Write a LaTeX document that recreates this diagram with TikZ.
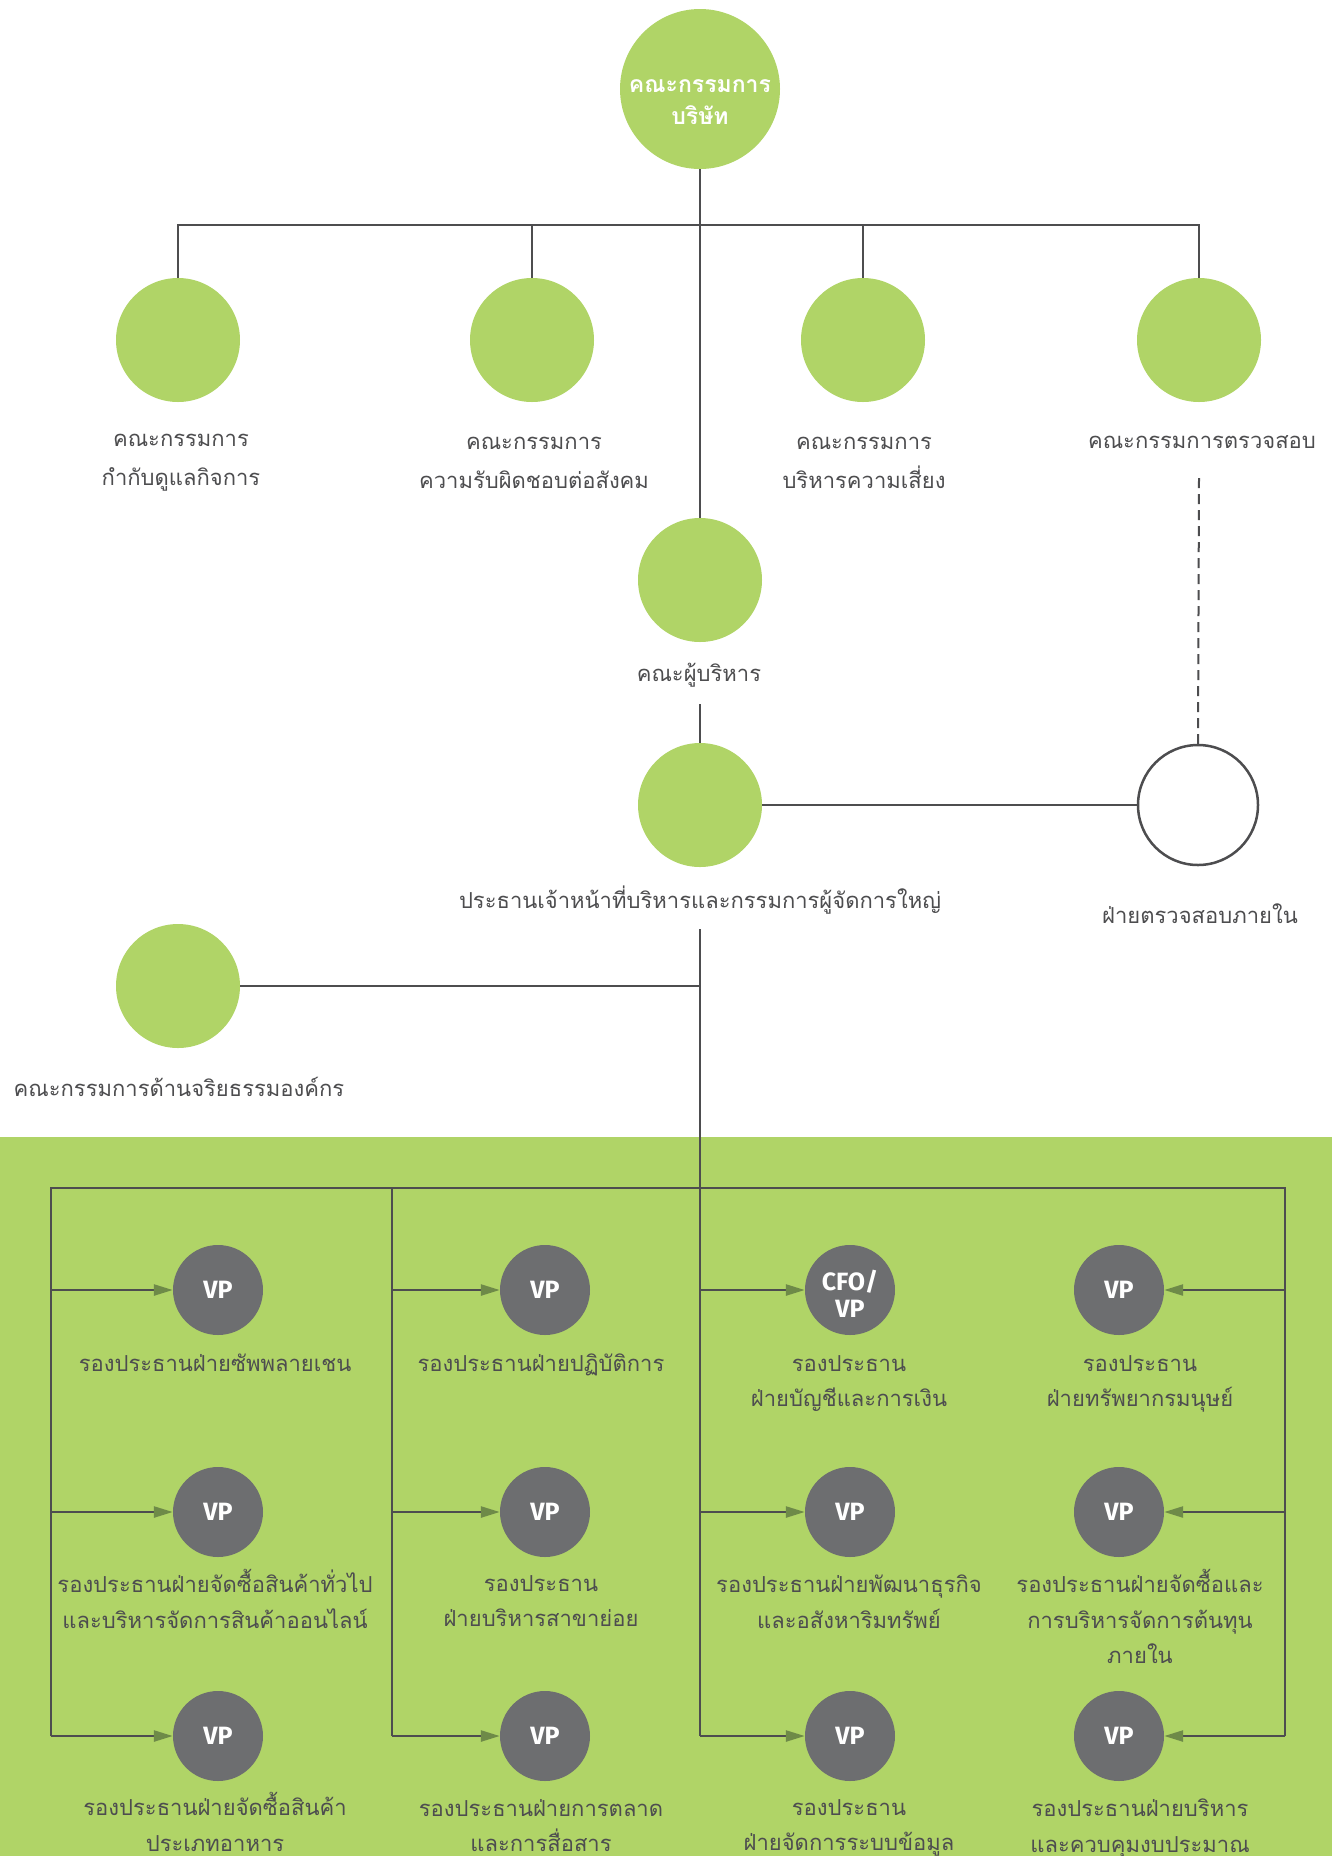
\documentclass[tikz,border=0pt]{standalone}
\usepackage{fontspec}
\usetikzlibrary{arrows.meta}
\newfontfamily\thai[Script=Thai]{Loma}
\newfontfamily\vpf{Fira Sans}
\definecolor{cgreen}{HTML}{B0D467}
\definecolor{cgrey}{HTML}{6D6E70}
\definecolor{cline}{HTML}{4D4D4F}
\definecolor{carrow}{HTML}{6E8A48}
\definecolor{ctext}{HTML}{4D4D4F}
\tikzset{
  gc/.style={circle, fill=cgreen, minimum size=124pt, inner sep=0pt},
  wc/.style={circle, draw=cline, line width=2.5pt, fill=white, minimum size=120pt, inner sep=0pt},
  vp/.style={circle, fill=cgrey, minimum size=90pt, inner sep=0pt, text=white, align=center,
     font=\vpf\bfseries\fontsize{25}{27}\selectfont},
  lbl/.style={text=ctext, font=\thai\fontsize{22}{39}\selectfont, align=center, inner sep=0pt},
  rlbl/.style={text=ctext, font=\thai\fontsize{22}{35.5}\selectfont, align=center, inner sep=0pt,
     anchor=north, execute at begin node={\rule{0pt}{26pt}}},
  ln/.style={draw=cline, line width=2.5pt},
  arr/.style={draw=cline, line width=2.5pt, -{Triangle[length=19pt,width=11pt,color=carrow]}},
}
\begin{document}
\begin{tikzpicture}[x=1pt,y=-1pt]
\useasboundingbox (0,0) rectangle (1332,1856);
\fill[cgreen] (0,1137) rectangle (1332,1856);

% top
\node[gc, minimum size=160pt] (top) at (700,89) {};
\node[text=white, align=center, inner sep=0pt, font=\thai\bfseries\fontsize{23}{32}\selectfont] (topl) at (700,102) {คณะกรรมการ\\บริษัท};
\coordinate (bus) at (700,225);

\node[gc] (c1) at (178,340) {};
\node[gc] (c2) at (532,340) {};
\node[gc] (c3) at (863,340) {};
\node[gc] (c4) at (1199,340) {};
\node[lbl] (l1) at (181,463) {คณะกรรมการ\\กำกับดูแลกิจการ};
\node[lbl] (l2) at (534,463) {คณะกรรมการ\\ความรับผิดชอบต่อสังคม};
\node[lbl] (l3) at (864,463) {คณะกรรมการ\\บริหารความเสี่ยง};
\node[lbl] (l4) at (1202,442) {คณะกรรมการตรวจสอบ};

\node[gc] (exec) at (700,580) {};
\node[lbl] (execl) at (699,675) {คณะผู้บริหาร};
\node[gc] (ceo) at (700,805) {};
\node[lbl] (ceol) at (700,900) {ประธานเจ้าหน้าที่บริหารและกรรมการผู้จัดการใหญ่};
\node[wc] (aud) at (1198,805) {};
\node[lbl] (audl) at (1200,914) {ฝ่ายตรวจสอบภายใน};
\node[gc] (eth) at (178,986) {};
\node[lbl] (ethl) at (179,1087) {คณะกรรมการด้านจริยธรรมองค์กร};

\draw[ln] (top.south) -- (exec.north);
\draw[ln] (c1.north) -- (c1.north |- bus) -- (c4.north |- bus) -- (c4.north);
\draw[ln] (c2.north) -- (c2.north |- bus);
\draw[ln] (c3.north) -- (c3.north |- bus);
\coordinate (e1) at (700,704);
\draw[ln] (e1) -- (ceo.north);
\draw[ln] (ceo) -- (aud);
\coordinate (d1) at (1199,478);
\draw[ln, line width=2pt, dash pattern=on 10pt off 6pt] (d1) -- (aud.north);
\coordinate (m0) at (700,929);
\coordinate (m3) at (700,1736);
\draw[ln] (m0) -- (m3);
\draw[ln] (eth) -- (eth -| m0);

% green area
\coordinate (L0) at (51,1188);
\coordinate (L3) at (51,1736);
\coordinate (K0) at (392,1188);
\coordinate (K3) at (392,1736);
\coordinate (R0) at (1285,1188);
\coordinate (R3) at (1285,1736);
\draw[ln] (L3) -- (L0) -- (R0) -- (R3);
\draw[ln] (K0) -- (K3);

\node[vp] (v11) at (218,1290) {VP};
\node[vp] (v12) at (545,1290) {VP};
\node[vp] (v13) at (850,1290) {\rule{0pt}{28pt}CFO/\\VP};
\node[vp] (v14) at (1119,1290) {VP};
\node[vp] (v21) at (218,1512) {VP};
\node[vp] (v22) at (545,1512) {VP};
\node[vp] (v23) at (850,1512) {VP};
\node[vp] (v24) at (1119,1512) {VP};
\node[vp] (v31) at (218,1736) {VP};
\node[vp] (v32) at (545,1736) {VP};
\node[vp] (v33) at (850,1736) {VP};
\node[vp] (v34) at (1119,1736) {VP};

\foreach \r in {1,2,3}{
  \draw[arr] (v\r1 -| L0) -- (v\r1.west);
  \draw[arr] (v\r2 -| K0) -- (v\r2.west);
  \draw[arr] (v\r3 -| m0) -- (v\r3.west);
  \draw[arr] (v\r4 -| R0) -- (v\r4.east);
}

\node[rlbl] (t11) at (215,1345) {รองประธานฝ่ายซัพพลายเชน};
\node[rlbl] (t12) at (541,1345) {รองประธานฝ่ายปฏิบัติการ};
\node[rlbl] (t13) at (849,1355) {รองประธาน\\ฝ่ายบัญชีและการเงิน};
\node[rlbl] (t14) at (1140,1355) {รองประธาน\\ฝ่ายทรัพยากรมนุษย์};
\node[rlbl] (t21) at (215,1569) {รองประธานฝ่ายจัดซื้อสินค้าทั่วไป\\และบริหารจัดการสินค้าออนไลน์};
\node[rlbl] (t22) at (541,1575) {รองประธาน\\ฝ่ายบริหารสาขาย่อย};
\node[rlbl] (t23) at (849,1575) {รองประธานฝ่ายพัฒนาธุรกิจ\\และอสังหาริมทรัพย์};
\node[rlbl] (t24) at (1140,1569) {รองประธานฝ่ายจัดซื้อและ\\การบริหารจัดการต้นทุน\\ภายใน};
\node[rlbl] (t31) at (215,1792) {รองประธานฝ่ายจัดซื้อสินค้า\\ประเภทอาหาร};
\node[rlbl] (t32) at (541,1799) {รองประธานฝ่ายการตลาด\\และการสื่อสาร};
\node[rlbl] (t33) at (849,1799) {รองประธาน\\ฝ่ายจัดการระบบข้อมูล};
\node[rlbl] (t34) at (1140,1799) {รองประธานฝ่ายบริหาร\\และควบคุมงบประมาณ};
\end{tikzpicture}
\end{document}
